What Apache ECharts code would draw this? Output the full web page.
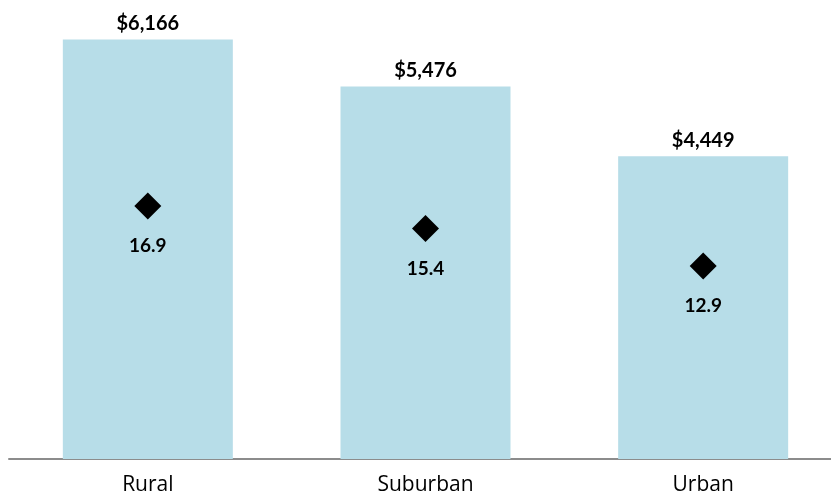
<!DOCTYPE html>
<html>
<head>
<meta charset="utf-8">
<script src="https://cdn.jsdelivr.net/npm/echarts@6/dist/echarts.min.js"></script>
<style>
  html, body { margin: 0; padding: 0; background: #fff; }
  #chart { width: 831px; height: 500px; }
</style>
</head>
<body>
<div id="chart"></div>
<script>
// Area types along the x axis
const categories = ['Rural', 'Suburban', 'Urban'];
// Spending per area (bars, left scale)
const spending = [6166, 5476, 4449];
// Rate per area (diamonds, right scale)
const rate = [16.9, 15.4, 12.9];

const FONT = 'Lato, "Open Sans", sans-serif';

const chart = echarts.init(document.getElementById('chart'));
chart.setOption({
  animation: false,
  grid: { left: 9, right: -11, top: 10, bottom: 41, containLabel: false, outerBoundsMode: 'none' },
  xAxis: {
    type: 'category',
    data: categories,
    axisLine: { show: true, lineStyle: { color: '#8c8c8c', width: 2 } },
    axisTick: { show: false },
    axisLabel: { color: '#000', fontFamily: '"Open Sans", sans-serif', fontSize: 21, margin: 16 }
  },
  yAxis: [
    { type: 'value', min: 0, max: 6600, show: false },
    { type: 'value', min: 0, max: 30, show: false }
  ],
  series: [
    {
      type: 'bar',
      data: spending,
      yAxisIndex: 0,
      barWidth: 170,
      itemStyle: { color: '#b7dde8' },
      label: {
        show: true,
        position: 'top',
        distance: 6,
        color: '#000',
        fontFamily: FONT,
        fontWeight: 'bold',
        fontSize: 20,
        formatter: p => '$' + p.value.toLocaleString('en-US')
      }
    },
    {
      type: 'scatter',
      data: rate,
      yAxisIndex: 1,
      symbol: 'diamond',
      symbolSize: 27,
      itemStyle: { color: '#000', opacity: 1 },
      label: {
        show: true,
        position: 'bottom',
        distance: 17,
        color: '#000',
        fontFamily: FONT,
        fontWeight: 'bold',
        fontSize: 19,
        formatter: p => p.value.toFixed(1)
      }
    }
  ]
});
</script>
</body>
</html>
